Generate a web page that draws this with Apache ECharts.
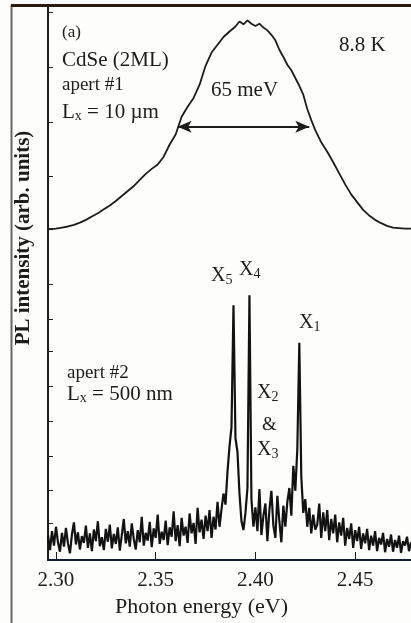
<!DOCTYPE html>
<html>
<head>
<meta charset="utf-8">
<script src="https://cdn.jsdelivr.net/npm/echarts@6/dist/echarts.min.js"></script>
<style>
  html, body { margin: 0; padding: 0; background: #fdfdfb; }
  #main { width: 411px; height: 623px; }
</style>
</head>
<body>
<div id="main"></div>
<script>
// aperture #1 (10 um) - broad band
var topEnergy = [2.296, 2.300, 2.303, 2.306, 2.309, 2.312, 2.315, 2.318, 2.321, 2.324, 2.327, 2.330, 2.333, 2.336, 2.339, 2.342, 2.345, 2.348, 2.351, 2.354, 2.357, 2.360, 2.363, 2.366, 2.369, 2.372, 2.375, 2.378, 2.381, 2.384, 2.387, 2.390, 2.392, 2.394, 2.396, 2.398, 2.400, 2.402, 2.404, 2.406, 2.408, 2.410, 2.412, 2.414, 2.416, 2.418, 2.420, 2.422, 2.424, 2.426, 2.428, 2.430, 2.433, 2.436, 2.439, 2.442, 2.445, 2.448, 2.451, 2.454, 2.457, 2.460, 2.463, 2.466, 2.469, 2.472, 2.475, 2.478];
var topIntensity = [59.7, 59.8, 60.0, 60.2, 60.5, 60.9, 61.4, 62.0, 62.6, 63.3, 64.0, 64.8, 65.7, 66.6, 67.5, 68.6, 69.7, 70.6, 71.4, 72.8, 75.0, 76.8, 80.0, 81.8, 83.4, 85.8, 89.2, 91.6, 93.0, 94.4, 95.4, 96.3, 97.2, 96.7, 97.4, 96.8, 96.4, 96.8, 96.1, 95.6, 94.8, 93.8, 92.1, 90.8, 89.4, 88.4, 87.0, 85.6, 84.0, 81.4, 79.4, 77.6, 75.4, 73.7, 71.8, 69.8, 67.8, 66.0, 64.6, 63.2, 62.2, 61.4, 60.8, 60.3, 60.0, 59.9, 59.8, 59.8];

// aperture #2 (500 nm) - sharp lines on a noisy background
var botEnergy = [
  2.296, 2.297, 2.298, 2.299, 2.300, 2.301, 2.302, 2.303, 2.304, 2.305,
  2.306, 2.307, 2.308, 2.309, 2.310, 2.311, 2.312, 2.313, 2.314, 2.315,
  2.316, 2.317, 2.318, 2.319, 2.320, 2.321, 2.322, 2.323, 2.324, 2.325,
  2.326, 2.327, 2.328, 2.329, 2.330, 2.331, 2.332, 2.333, 2.334, 2.335,
  2.336, 2.337, 2.338, 2.339, 2.340, 2.341, 2.342, 2.343, 2.344, 2.345,
  2.346, 2.347, 2.348, 2.349, 2.350, 2.351, 2.352, 2.353, 2.354, 2.355,
  2.356, 2.357, 2.358, 2.359, 2.360, 2.361, 2.362, 2.363, 2.364, 2.365,
  2.366, 2.367, 2.368, 2.369, 2.370, 2.371, 2.372, 2.373, 2.374, 2.375,
  2.376, 2.377, 2.378, 2.379, 2.380, 2.381, 2.382, 2.383, 2.384, 2.385,
  2.386, 2.387, 2.388, 2.389, 2.390, 2.391, 2.392, 2.393, 2.394, 2.395,
  2.396, 2.397, 2.398, 2.399, 2.400, 2.401, 2.402, 2.403, 2.404, 2.405,
  2.406, 2.407, 2.408, 2.409, 2.410, 2.411, 2.412, 2.413, 2.414, 2.415,
  2.416, 2.417, 2.418, 2.419, 2.420, 2.421, 2.422, 2.423, 2.424, 2.425,
  2.426, 2.427, 2.428, 2.429, 2.430, 2.431, 2.432, 2.433, 2.434, 2.435,
  2.436, 2.437, 2.438, 2.439, 2.440, 2.441, 2.442, 2.443, 2.444, 2.445,
  2.446, 2.447, 2.448, 2.449, 2.450, 2.451, 2.452, 2.453, 2.454, 2.455,
  2.456, 2.457, 2.458, 2.459, 2.460, 2.461, 2.462, 2.463, 2.464, 2.465,
  2.466, 2.467, 2.468, 2.469, 2.470, 2.471, 2.472, 2.473, 2.474, 2.475,
  2.476, 2.477, 2.478];
var botIntensity = [
  4.5, 1.8, 5.2, 2.6, 6.0, 3.2, 1.5, 4.9, 2.4, 5.8,
  3.0, 1.2, 4.6, 6.8, 2.8, 5.0, 1.9, 4.3, 3.1, 6.2,
  2.2, 4.8, 1.6, 5.5, 3.4, 7.0, 2.5, 4.1, 1.8, 5.6,
  3.3, 6.4, 2.1, 4.7, 2.9, 5.9, 1.7, 4.5, 7.4, 3.0,
  5.2, 2.4, 6.6, 3.8, 1.9, 5.4, 3.2, 7.8, 2.6, 4.9,
  3.5, 6.9, 2.3, 5.7, 4.0, 8.2, 2.9, 5.1, 3.6, 7.1,
  2.7, 5.9, 4.2, 8.8, 3.4, 6.3, 2.5, 7.6, 4.4, 6.0,
  3.1, 8.4, 4.8, 6.7, 2.9, 9.4, 5.0, 7.3, 3.8, 8.0,
  5.2, 9.0, 4.0, 7.8, 5.5, 10.5, 6.0, 9.2, 12.0, 10.0,
  16.0, 20.5, 24.0, 46.0, 22.0, 19.5, 12.0, 7.0, 5.4, 8.5,
  13.0, 47.8, 11.0, 6.0, 9.5, 5.2, 12.8, 4.5, 8.0, 10.2,
  3.4, 9.0, 12.5, 6.2, 4.0, 11.6, 7.0, 3.2, 9.8, 6.0,
  10.5, 13.0, 8.0, 17.0, 12.5, 20.0, 39.2, 15.0, 8.5, 11.0,
  6.0, 9.4, 4.8, 8.2, 5.5, 6.4, 10.2, 4.0, 8.6, 5.2,
  9.0, 3.6, 7.4, 4.8, 8.2, 3.2, 6.8, 4.4, 7.6, 2.6,
  5.8, 3.8, 6.6, 2.2, 5.4, 3.4, 6.0, 2.0, 4.8, 3.0,
  5.6, 1.8, 4.4, 2.6, 5.2, 1.6, 4.0, 2.8, 4.9, 1.4,
  3.8, 2.4, 4.6, 1.5, 3.6, 2.2, 4.4, 1.3, 3.4, 2.6,
  4.2, 1.6, 3.2];

var xTicks = [2.30, 2.35, 2.40, 2.45];
var yTicks = [98.9, 89.0, 79.1, 69.2, 59.7, 49.8, 43.5, 37.6, 31.3, 25.0, 18.7, 12.6, 6.7];
var fwhmEnds = [2.361, 2.427];
var fwhmLevel = 78.2;

var serif = '"Liberation Serif", "DejaVu Serif", serif';
var ink = '#1c1c1c';

var zip = function (xs, ys) {
  return xs.map(function (x, i) { return [x, ys[i]]; });
};

var myChart = echarts.init(document.getElementById('main'));

// annotation text, x = left edge, y = middle
var txt = function (x, y, text, size) {
  size = size || 21;
  return {
    type: 'text', x: x, y: y, silent: true,
    style: {
      text: text, fontSize: size, fontFamily: serif, fill: ink,
      align: 'left', verticalAlign: 'middle',
      rich: {
        n: { fontSize: size, fontFamily: serif, fill: ink },
        s: { fontSize: 14, fontFamily: serif, fill: ink, verticalAlign: 'bottom', padding: [9, 0, 0, 0] }
      }
    }
  };
};

var option = {
  backgroundColor: '#fdfdfb',
  animation: false,
  grid: { left: 48, top: 6, right: 0, bottom: 61 },
  xAxis: {
    type: 'value',
    min: 2.296,
    max: 2.478,
    name: 'Photon energy (eV)',
    nameLocation: 'middle',
    nameGap: 36,
    nameTextStyle: { fontFamily: serif, fontSize: 22, color: ink, padding: [0, 56, 0, 0] },
    axisLine: { lineStyle: { color: '#10202e', width: 2 } },
    axisTick: { inside: true, length: 8, customValues: xTicks, lineStyle: { color: ink } },
    axisLabel: {
      customValues: xTicks, margin: 10,
      fontFamily: serif, fontSize: 21, color: ink,
      formatter: function (v) { return v.toFixed(2); }
    },
    splitLine: { show: false }
  },
  yAxis: {
    type: 'value',
    min: 0,
    max: 100,
    axisLine: { lineStyle: { color: ink, width: 2 } },
    axisTick: { inside: true, length: 5, customValues: yTicks, lineStyle: { color: ink } },
    axisLabel: { show: false },
    splitLine: { show: false }
  },
  series: [
    {
      name: 'apert #1',
      type: 'line',
      showSymbol: false,
      lineStyle: { color: ink, width: 1.8 },
      data: zip(topEnergy, topIntensity),
      markLine: {
        silent: true,
        symbol: ['arrow', 'arrow'],
        symbolSize: [9, 14],
        label: { show: false },
        lineStyle: { color: ink, width: 2, type: 'solid' },
        data: [[{ coord: [fwhmEnds[0], fwhmLevel] }, { coord: [fwhmEnds[1], fwhmLevel] }]]
      }
    },
    {
      name: 'apert #2',
      type: 'line',
      showSymbol: false,
      lineStyle: { color: '#121212', width: 2.2 },
      data: zip(botEnergy, botIntensity)
    }
  ],
  graphic: [
    // outer frame
    { type: 'line', silent: true, shape: { x1: 11.5, y1: 5, x2: 11.5, y2: 623 }, style: { stroke: '#666', lineWidth: 2 } },
    { type: 'line', silent: true, shape: { x1: 11, y1: 5.5, x2: 411, y2: 5.5 }, style: { stroke: '#2a1a10', lineWidth: 3 } },
    {
      type: 'text', x: 24, y: 238, rotation: Math.PI / 2, silent: true,
      style: {
        text: 'PL intensity (arb. units)', fontSize: 21, fontWeight: 'bold',
        fontFamily: serif, fill: ink, align: 'center', verticalAlign: 'middle'
      }
    },
    txt(62, 33, '(a)', 17),
    txt(62, 60, 'CdSe (2ML)'),
    txt(62, 85, 'apert #1', 19),
    txt(62, 112, '{n|L}{s|x}{n| = 10 µm}'),
    txt(211, 90, '65 meV'),
    txt(339, 45, '8.8 K'),
    txt(67, 373, 'apert #2', 19),
    txt(67, 394, '{n|L}{s|x}{n| = 500 nm}'),
    txt(211, 276, '{n|X}{s|5}', 20),
    txt(239, 270, '{n|X}{s|4}', 20),
    txt(299, 323, '{n|X}{s|1}', 20),
    txt(257, 393, '{n|X}{s|2}', 20),
    txt(262, 425, '&', 19),
    txt(257, 450, '{n|X}{s|3}', 20)
  ]
};

option && myChart.setOption(option);
</script>
</body>
</html>
